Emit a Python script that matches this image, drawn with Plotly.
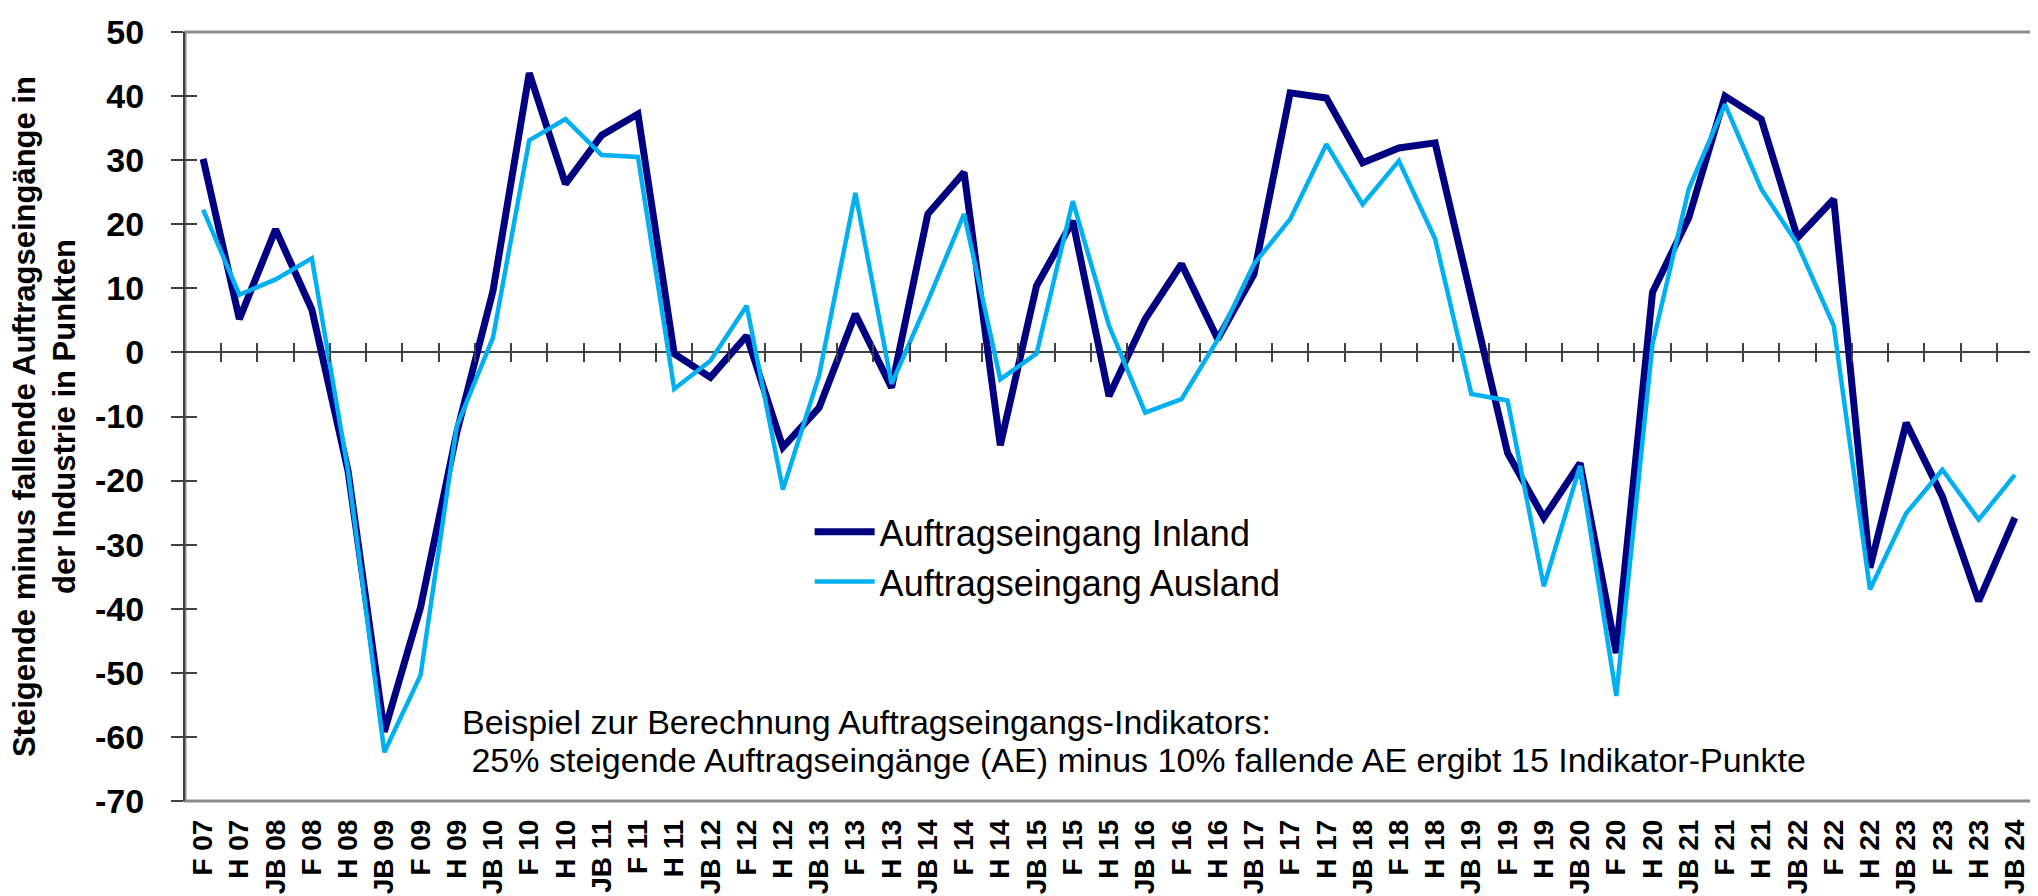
import plotly.graph_objects as go

categories = ["F 07","H 07","JB 08","F 08","H 08","JB 09","F 09","H 09","JB 10","F 10",
              "H 10","JB 11","F 11","H 11","JB 12","F 12","H 12","JB 13","F 13","H 13",
              "JB 14","F 14","H 14","JB 15","F 15","H 15","JB 16","F 16","H 16","JB 17",
              "F 17","H 17","JB 18","F 18","H 18","JB 19","F 19","H 19","JB 20","F 20",
              "H 20","JB 21","F 21","H 21","JB 22","F 22","H 22","JB 23","F 23","H 23","JB 24"]

inland = [30.2, 5.2, 19.2, 6.7, -18.5, -59.2, -39.8, -12.5, 9.6, 43.6,
          26.3, 33.9, 37.2, -0.2, -3.9, 2.6, -14.8, -8.6, 6.0, -5.5,
          21.6, 28.1, -14.5, 10.4, 20.5, -6.8, 5.2, 13.8, 2.1, 12.2,
          40.5, 39.7, 29.6, 31.9, 32.7, 8.6, -15.7, -25.8, -17.3, -46.9,
          9.4, 21.0, 40.0, 36.4, 17.9, 23.9, -33.6, -11.0, -22.5, -38.8, -25.8]

ausland = [22.3, 9.0, 11.4, 14.7, -18.5, -62.4, -50.4, -11.5, 2.3, 33.1,
           36.4, 30.8, 30.5, -5.7, -1.3, 7.3, -21.4, -3.6, 24.9, -4.9,
           8.0, 21.6, -4.2, -0.2, 23.6, 4.2, -9.4, -7.3, 2.0, 13.8,
           20.8, 32.5, 23.1, 29.9, 17.7, -6.5, -7.5, -36.5, -17.7, -53.6,
           1.3, 25.5, 38.7, 25.5, 16.9, 4.2, -37.0, -25.1, -18.3, -26.1, -19.1]

y_min, y_max, y_step = -70, 50, 10
y_ticks = list(range(y_min, y_max + 1, y_step))
y_tick_labels = [str(v) for v in y_ticks]
series_names = ["Auftragseingang Inland", "Auftragseingang Ausland"]
note_lines = ["Beispiel zur Berechnung Auftragseingangs-Indikators:",
              "&nbsp;25% steigende Auftragseingänge (AE) minus 10% fallende AE ergibt 15 Indikator-Punkte"]
y_title = "Steigende minus fallende Auftragseingänge in<br>der Industrie in Punkten"

FONT = "Liberation Sans, Arial, sans-serif"
n = len(categories)
boundaries = [i + 0.5 for i in range(n)]
zero_pos = (0 - y_min) / (y_max - y_min)

fig = go.Figure()
fig.add_trace(go.Scatter(x=categories, y=inland, mode="lines", name=series_names[0],
                         line=dict(color="#000080", width=7)))
fig.add_trace(go.Scatter(x=categories, y=ausland, mode="lines", name=series_names[1],
                         line=dict(color="#00B0F0", width=4.5)))

fig.update_layout(
    width=2038, height=896,
    margin=dict(l=177, r=13, t=24, b=103, autoexpand=False),
    paper_bgcolor="white", plot_bgcolor="white",
    font=dict(family=FONT, color="black"),
    showlegend=True,
    legend=dict(x=0.338, y=0.389, xanchor="left", yanchor="top",
                bgcolor="rgba(0,0,0,0)", font=dict(size=36, family=FONT),
                itemwidth=60, tracegroupgap=0),
    xaxis=dict(type="category", range=[-0.5, n - 0.5], showgrid=False,
               showline=False, ticks="", tickangle=-90, automargin=False,
               tickfont=dict(size=28, family=FONT, weight="bold"),
               ticklabelstandoff=12, zeroline=False),
    xaxis2=dict(overlaying="x", anchor="free", position=zero_pos, range=[-0.5, n - 0.5],
                tickmode="array", tickvals=boundaries, ticks="outside", ticklen=9,
                tickwidth=1.5, tickcolor="#404040", showticklabels=False, automargin=False,
                showgrid=False, zeroline=False, showline=False),
    xaxis3=dict(overlaying="x", anchor="free", position=zero_pos, range=[-0.5, n - 0.5],
                tickmode="array", tickvals=boundaries, ticks="inside", ticklen=9,
                tickwidth=1.5, tickcolor="#404040", showticklabels=False, automargin=False,
                showgrid=False, zeroline=False, showline=False),
    yaxis=dict(range=[y_min, y_max], tickmode="array", tickvals=y_ticks, ticktext=y_tick_labels,
               showgrid=False,
               zeroline=True, zerolinecolor="#404040", zerolinewidth=1.5,
               showline=True, linecolor="#404040", linewidth=2, automargin=False,
               ticks="outside", ticklen=12, tickwidth=1.5, tickcolor="#404040",
               tickfont=dict(size=34, family=FONT, weight="bold"),
               ticklabelstandoff=20),
    yaxis2=dict(overlaying="y", anchor="x", side="left", range=[y_min, y_max],
                tickmode="array", tickvals=y_ticks, ticks="inside", ticklen=12, tickwidth=1.5,
                tickcolor="#404040", showticklabels=False, showgrid=False, automargin=False,
                zeroline=False, showline=False),
)

# invisible helper traces so the helper axes are drawn
fig.add_trace(go.Scatter(x=[-0.5, n - 0.5], y=[None, None], xaxis="x2", yaxis="y",
                         showlegend=False, hoverinfo="skip", mode="lines"))
fig.add_trace(go.Scatter(x=[-0.5, n - 0.5], y=[None, None], xaxis="x3", yaxis="y2",
                         showlegend=False, hoverinfo="skip", mode="lines"))

# plot area border
fig.add_shape(type="rect", xref="paper", yref="paper", x0=0, x1=1, y0=0, y1=1,
              line=dict(color="#8c8c8c", width=3), layer="below")

for txt, ypos in zip(note_lines, [0.103, 0.053]):
    fig.add_annotation(text=txt, xref="paper", yref="paper", x=0.149, y=ypos,
                       xanchor="left", yanchor="middle", align="left", showarrow=False,
                       font=dict(size=34, family=FONT, color="black"))

fig.add_annotation(
    text=y_title, xref="paper", yref="paper", x=-0.076, y=0.5, xanchor="center",
    yanchor="middle", textangle=-90, showarrow=False, align="center",
    font=dict(size=31, family=FONT, color="black", weight="bold"))

fig.write_html("out.html")
